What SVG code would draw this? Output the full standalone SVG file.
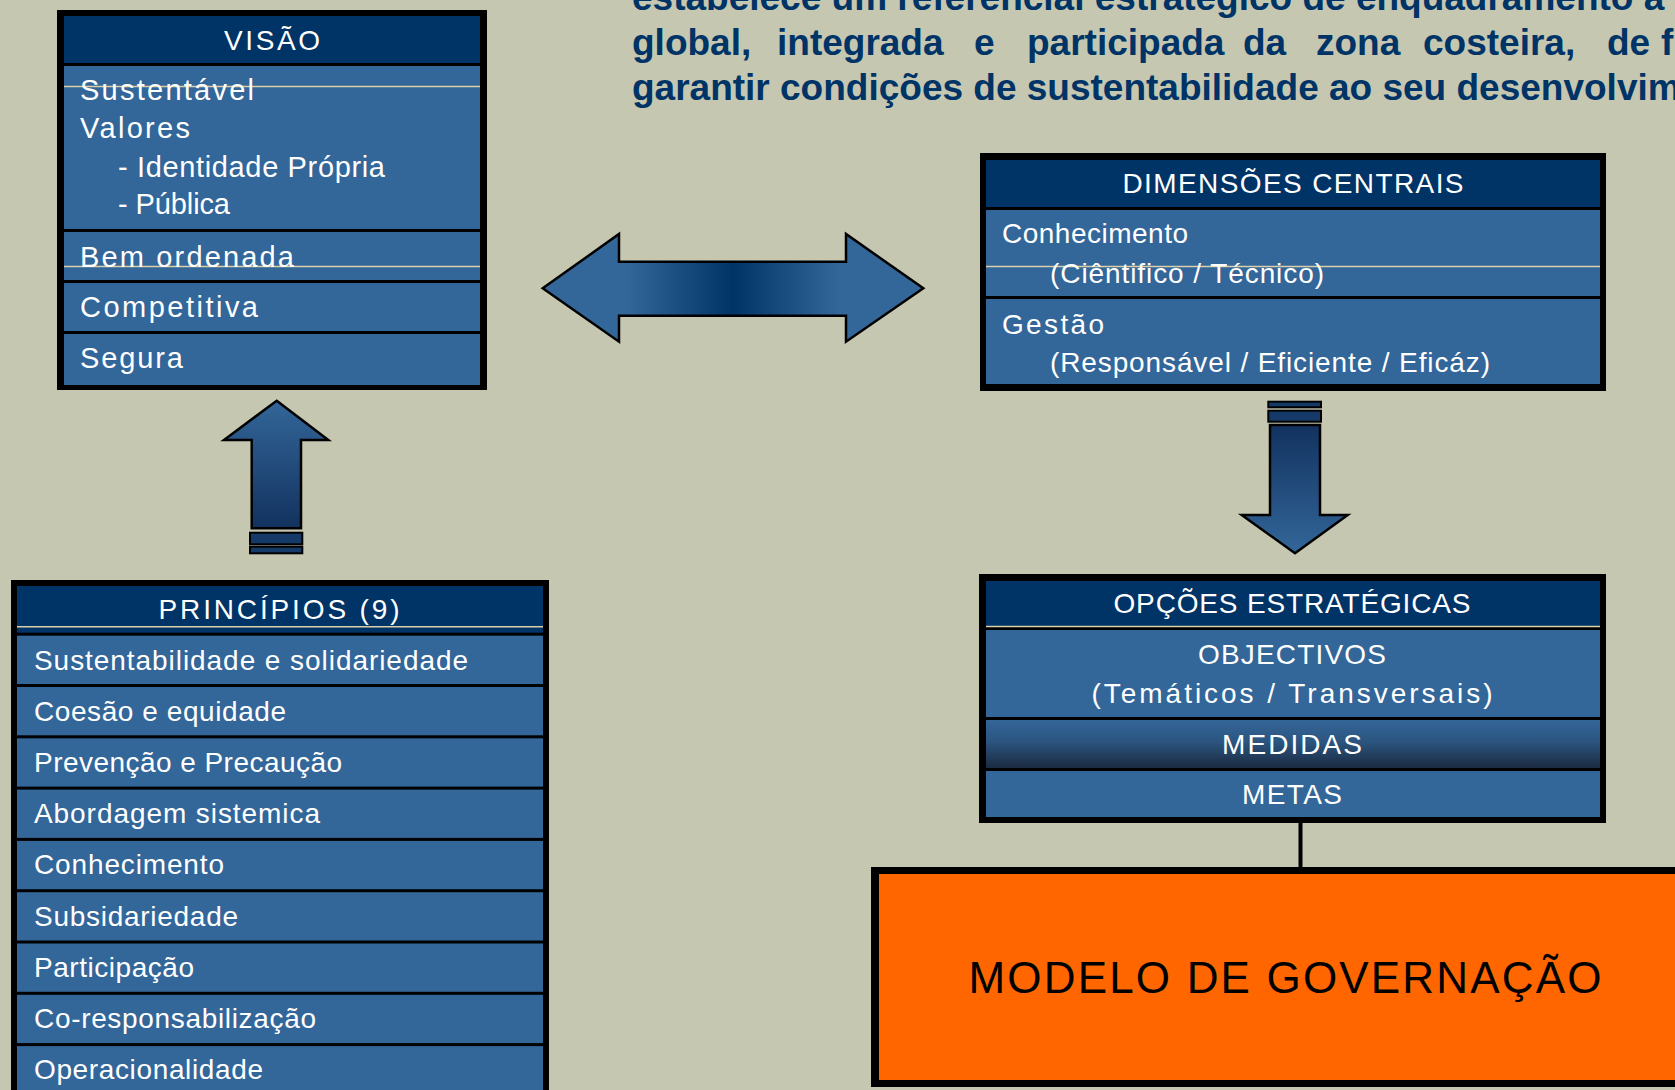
<svg xmlns="http://www.w3.org/2000/svg" width="1675" height="1090" viewBox="0 0 1675 1090">
<style>
.frame{fill:#000}
.hd{fill:#003366}
.row{fill:#336699}
.rule{stroke:#d9cfa8;stroke-width:1.5}
.t{font-family:"Liberation Sans",Arial,sans-serif;font-size:28px;fill:#ffffff}
.tv{font-family:"Liberation Sans",Arial,sans-serif;font-size:29px;fill:#ffffff}
.c{text-anchor:middle}
.top{font-family:"Liberation Sans",Arial,sans-serif;font-size:37px;font-weight:bold;fill:#003366}
.arrow{stroke:#000;stroke-width:2.5;stroke-linejoin:miter}
.stripe{fill:#163a68;stroke:#000;stroke-width:2}
</style>
<defs>
<linearGradient id="gH" gradientUnits="userSpaceOnUse" x1="543" y1="0" x2="923" y2="0">
<stop offset="0" stop-color="#336699"/>
<stop offset="0.22" stop-color="#336699"/>
<stop offset="0.5" stop-color="#003366"/>
<stop offset="0.78" stop-color="#336699"/>
<stop offset="1" stop-color="#336699"/>
</linearGradient>
<linearGradient id="gUp" x1="0" y1="0" x2="0" y2="1">
<stop offset="0" stop-color="#336699"/>
<stop offset="1" stop-color="#12325f"/>
</linearGradient>
<linearGradient id="gDown" x1="0" y1="0" x2="0" y2="1">
<stop offset="0" stop-color="#12325f"/>
<stop offset="1" stop-color="#336699"/>
</linearGradient>
<linearGradient id="gMed" x1="0" y1="0" x2="0" y2="1">
<stop offset="0" stop-color="#336699"/>
<stop offset="0.45" stop-color="#2c5580"/>
<stop offset="1" stop-color="#1b2a40"/>
</linearGradient>
</defs>

<rect x="0" y="0" width="1675" height="1090" fill="#c5c7b1"/>

<g id="intro-text">
<text class="top" x="632" y="10">estabelece um referencial estratégico de enquadramento a</text>
<text class="top" y="55"><tspan x="632">global,</tspan><tspan x="777">integrada</tspan><tspan x="974">e</tspan><tspan x="1027">participada</tspan><tspan x="1243">da</tspan><tspan x="1316">zona</tspan><tspan x="1423">costeira,</tspan><tspan x="1607">de</tspan><tspan x="1661">f</tspan></text>
<text class="top" x="632" y="100">garantir condições de sustentabilidade ao seu desenvolvim</text>
</g>

<g id="visao">
<rect class="frame" x="57" y="10" width="430" height="380"/>
<rect class="hd" x="64" y="16" width="416" height="47"/>
<rect class="row" x="64" y="66" width="416" height="163"/>
<rect class="row" x="64" y="232" width="416" height="48"/>
<rect class="row" x="64" y="283" width="416" height="48"/>
<rect class="row" x="64" y="334" width="416" height="51"/>
<line class="rule" x1="64" y1="86.5" x2="480" y2="86.5"/>
<line class="rule" x1="64" y1="266.5" x2="480" y2="266.5"/>
<text class="t c" x="272" y="49.5" textLength="96" lengthAdjust="spacing">VISÃO</text>
<text class="tv" x="80" y="100" textLength="174" lengthAdjust="spacing">Sustentável</text>
<text class="tv" x="80" y="137.7" textLength="110" lengthAdjust="spacing">Valores</text>
<text class="tv" x="118" y="176.7" textLength="267" lengthAdjust="spacing">- Identidade Própria</text>
<text class="tv" x="118" y="214.3" textLength="112" lengthAdjust="spacing">- Pública</text>
<text class="tv" x="80" y="266.7" textLength="214" lengthAdjust="spacing">Bem ordenada</text>
<text class="tv" x="80" y="317.3" textLength="178" lengthAdjust="spacing">Competitiva</text>
<text class="tv" x="80" y="368.3" textLength="103" lengthAdjust="spacing">Segura</text>
</g>

<g id="dimensoes">
<rect class="frame" x="980" y="153" width="626" height="238"/>
<rect class="hd" x="986" y="160" width="614" height="47"/>
<rect class="row" x="986" y="210" width="614" height="86"/>
<rect class="row" x="986" y="299" width="614" height="85"/>
<line class="rule" x1="986" y1="266.5" x2="1600" y2="266.5"/>
<text class="t c" x="1293" y="193.3" textLength="341" lengthAdjust="spacing">DIMENSÕES CENTRAIS</text>
<text class="t" x="1002" y="243.3" textLength="186" lengthAdjust="spacing">Conhecimento</text>
<text class="t" x="1050" y="282.7" textLength="274" lengthAdjust="spacing">(Ciêntifico / Técnico)</text>
<text class="t" x="1002" y="334.3" textLength="102" lengthAdjust="spacing">Gestão</text>
<text class="t" x="1050" y="371.7" textLength="440" lengthAdjust="spacing">(Responsável / Eficiente / Eficáz)</text>
</g>

<g id="principios">
<rect class="frame" x="11" y="580" width="538" height="520"/>
<rect class="hd" x="17" y="586" width="526" height="46.7"/>
<line class="rule" x1="17" y1="626.7" x2="543" y2="626.7"/>
<rect class="row" x="17" y="635.7" width="526" height="48.3"/>
<rect class="row" x="17" y="687" width="526" height="48.3"/>
<rect class="row" x="17" y="738.3" width="526" height="48.3"/>
<rect class="row" x="17" y="789.6" width="526" height="48.3"/>
<rect class="row" x="17" y="840.9" width="526" height="48.3"/>
<rect class="row" x="17" y="892.2" width="526" height="48.3"/>
<rect class="row" x="17" y="943.5" width="526" height="48.3"/>
<rect class="row" x="17" y="994.8" width="526" height="48.3"/>
<rect class="row" x="17" y="1046.1" width="526" height="48.3"/>
<text class="t c" x="279" y="619" textLength="241" lengthAdjust="spacing">PRINCÍPIOS (9)</text>
<text class="t" x="34" y="670" textLength="434" lengthAdjust="spacing">Sustentabilidade e solidariedade</text>
<text class="t" x="34" y="721" textLength="252" lengthAdjust="spacing">Coesão e equidade</text>
<text class="t" x="34" y="772.3" textLength="308" lengthAdjust="spacing">Prevenção e Precaução</text>
<text class="t" x="34" y="823.3" textLength="286" lengthAdjust="spacing">Abordagem sistemica</text>
<text class="t" x="34" y="874.3" textLength="190" lengthAdjust="spacing">Conhecimento</text>
<text class="t" x="34" y="925.7" textLength="204" lengthAdjust="spacing">Subsidariedade</text>
<text class="t" x="34" y="976.7" textLength="160" lengthAdjust="spacing">Participação</text>
<text class="t" x="34" y="1027.7" textLength="282" lengthAdjust="spacing">Co-responsabilização</text>
<text class="t" x="34" y="1079" textLength="229" lengthAdjust="spacing">Operacionalidade</text>
</g>

<g id="opcoes">
<rect class="frame" x="979" y="574" width="627" height="249"/>
<rect class="hd" x="986" y="581" width="614" height="45"/>
<line class="rule" x1="986" y1="626.5" x2="1600" y2="626.5"/>
<rect class="row" x="986" y="630" width="614" height="87"/>
<rect x="986" y="720" width="614" height="48" fill="url(#gMed)"/>
<rect class="row" x="986" y="771" width="614" height="46"/>
<text class="t c" x="1292" y="612.7" textLength="357" lengthAdjust="spacing">OPÇÕES ESTRATÉGICAS</text>
<text class="t c" x="1292" y="664.3" textLength="188" lengthAdjust="spacing">OBJECTIVOS</text>
<text class="t c" x="1292" y="703.3" textLength="401" lengthAdjust="spacing">(Temáticos / Transversais)</text>
<text class="t c" x="1292" y="754" textLength="140" lengthAdjust="spacing">MEDIDAS</text>
<text class="t c" x="1292" y="804.3" textLength="100" lengthAdjust="spacing">METAS</text>
</g>

<g id="modelo">
<rect class="frame" x="871" y="867" width="830" height="220"/>
<rect x="879" y="874" width="820" height="206" fill="#ff6600"/>
<text x="1285" y="993" text-anchor="middle" font-family="'Liberation Sans',Arial,sans-serif" font-size="44" fill="#000" textLength="633" lengthAdjust="spacing">MODELO DE GOVERNAÇÃO</text>
</g>

<g id="connectors">
<polygon class="arrow" fill="url(#gH)" points="542.7,288.3 619,234 619,261.7 846,261.7 846,234 923.3,288.3 846,341.7 846,315.7 619,315.7 619,341.7"/>
<polygon class="arrow" fill="url(#gUp)" points="276.7,400.7 328.3,440 301,440 301,528.3 251.7,528.3 251.7,440 224,440"/>
<rect class="stripe" x="250" y="532.7" width="52.3" height="11.6"/>
<rect class="stripe" x="250" y="546.7" width="52.3" height="6.6"/>
<rect class="stripe" x="1268.3" y="401.7" width="52.7" height="5.6"/>
<rect class="stripe" x="1268.3" y="410.7" width="52.7" height="11"/>
<polygon class="arrow" fill="url(#gDown)" points="1270,425 1320,425 1320,515 1347.7,515 1295,553.3 1241.7,515 1270,515"/>
<line x1="1300.5" y1="823" x2="1300.5" y2="867" stroke="#000" stroke-width="4"/>
</g>
</svg>
